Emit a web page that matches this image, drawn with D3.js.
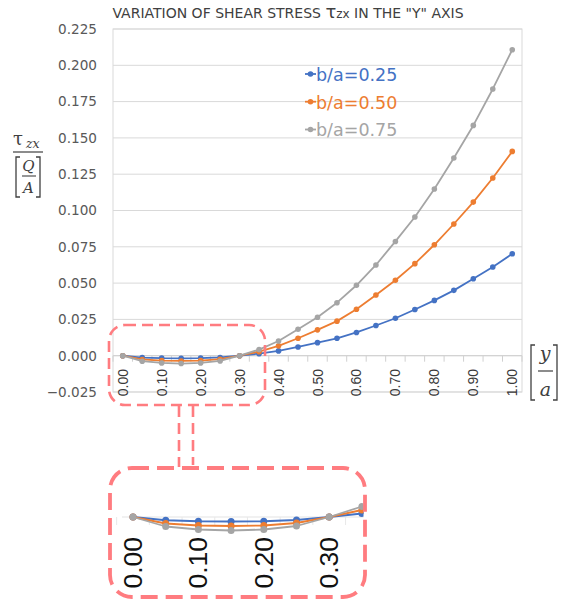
<!DOCTYPE html>
<html>
<head>
<meta charset="utf-8">
<script src="https://cdn.jsdelivr.net/npm/d3@7"></script>
<style>
  html, body { margin: 0; padding: 0; background: #fff; }
  svg { display: block; }
</style>
</head>
<body>
<svg id="chart" width="566" height="604"></svg>
<script>
// ---------------- DATA ----------------
const categories = ["0.00","0.05","0.10","0.15","0.20","0.25","0.30","0.35","0.40","0.45","0.50",
                    "0.55","0.60","0.65","0.70","0.75","0.80","0.85","0.90","0.95","1.00"];
const seriesNames = ["b/a=0.25", "b/a=0.50", "b/a=0.75"];
const values025 = [0, -0.0013, -0.0017, -0.0018, -0.0017, -0.0012, 0, 0.0014, 0.0033, 0.0060, 0.0090,
                   0.0120, 0.0160, 0.0208, 0.0258, 0.0318, 0.0381, 0.0450, 0.0530, 0.0611, 0.0702];
const values050 = [0, -0.0026, -0.0034, -0.0036, -0.0034, -0.0024, 0, 0.0028, 0.0068, 0.0120, 0.0178,
                   0.0238, 0.0320, 0.0418, 0.0520, 0.0634, 0.0764, 0.0907, 0.1058, 0.1224, 0.1407];
const values075 = [0, -0.0038, -0.0050, -0.0054, -0.0050, -0.0036, 0, 0.0042, 0.0101, 0.0182, 0.0265,
                   0.0365, 0.0485, 0.0625, 0.0787, 0.0955, 0.1148, 0.1362, 0.1586, 0.1837, 0.2107];
const yTicks = [-0.025, 0, 0.025, 0.05, 0.075, 0.1, 0.125, 0.15, 0.175, 0.2, 0.225];
const xTickLabels = ["0.00","0.10","0.20","0.30","0.40","0.50","0.60","0.70","0.80","0.90","1.00"];
const insetTickLabels = ["0.00","0.10","0.20","0.30"];
const colors = ["#4472C4", "#ED7D31", "#A5A5A5"];

const series = seriesNames.map((name, i) => ({
  name, color: colors[i],
  values: [values025, values050, values075][i]
}));

// ---------------- SCALES ----------------
const svg = d3.select("#chart");
const plot = {left: 113, right: 522, top: 29, bottom: 392};
const x = d3.scaleBand().domain(categories).range([plot.left, plot.right]);
const y = d3.scaleLinear().domain([-0.025, 0.225]).range([plot.bottom, plot.top]);
const cx = c => x(c) + x.bandwidth() / 2;

// ---------------- TITLE ----------------
const title = svg.append("text")
  .attr("x", 288).attr("y", 18)
  .attr("text-anchor", "middle")
  .attr("font-family", "DejaVu Sans, sans-serif")
  .attr("font-size", 14)
  .attr("fill", "#404040");
title.append("tspan").text("VARIATION OF SHEAR STRESS ");
title.append("tspan").attr("font-size", 18).text("τ");
title.append("tspan").attr("font-size", 12).text("zx");
title.append("tspan").text(" IN THE \"Y\" AXIS");

// ---------------- GRID ----------------
svg.append("g").selectAll("line").data(yTicks).join("line")
  .attr("x1", plot.left).attr("x2", plot.right)
  .attr("y1", d => y(d)).attr("y2", d => y(d))
  .attr("stroke", "#D9D9D9").attr("stroke-width", 1);
svg.append("rect")
  .attr("x", plot.left).attr("y", plot.top)
  .attr("width", plot.right - plot.left).attr("height", plot.bottom - plot.top)
  .attr("fill", "none").attr("stroke", "#D9D9D9");

// Y axis labels
const yAxis = d3.axisLeft(y).tickValues(yTicks).tickFormat(d3.format(".3f")).tickSize(0).tickPadding(0);
const yg = svg.append("g").attr("transform", `translate(97,0)`).call(yAxis);
yg.select(".domain").remove();
yg.selectAll("text")
  .attr("font-family", "DejaVu Sans, sans-serif")
  .attr("font-size", 13.6)
  .attr("fill", "#595959");

// X axis at zero (category axis)
const zeroY = y(0);
svg.append("line")
  .attr("x1", plot.left).attr("x2", plot.right)
  .attr("y1", zeroY).attr("y2", zeroY)
  .attr("stroke", "#D0D0D0");
const bounds = categories.map(c => x(c)).concat([plot.right]);
svg.append("g").selectAll("line").data(bounds).join("line")
  .attr("x1", d => d).attr("x2", d => d)
  .attr("y1", zeroY).attr("y2", zeroY + 6)
  .attr("stroke", "#D0D0D0");
svg.append("g").selectAll("text").data(xTickLabels).join("text")
  .attr("transform", d => `translate(${cx(d) + 5},369) rotate(-90)`)
  .attr("text-anchor", "end")
  .attr("font-family", "Liberation Sans, Arial, sans-serif")
  .attr("font-size", 14)
  .attr("fill", "#3a3a3a")
  .text(d => d);

// ---------------- SERIES ----------------
function drawSeries(g, xs, ys, r, w) {
  series.forEach(s => {
    const pts = categories.map((c, i) => [xs(c) + xs.bandwidth() / 2, ys(s.values[i])]);
    g.append("path")
      .attr("d", d3.line()(pts))
      .attr("fill", "none").attr("stroke", s.color)
      .attr("stroke-width", w).attr("stroke-linejoin", "round");
    g.append("g").selectAll("circle").data(pts).join("circle")
      .attr("cx", d => d[0]).attr("cy", d => d[1]).attr("r", r)
      .attr("fill", s.color);
  });
}
const main = svg.append("g");
drawSeries(main, x, y, 2.8, 1.8);

// ---------------- LEGEND ----------------
const legY = [74, 101.7, 129.5];
const leg = svg.append("g");
series.forEach((s, i) => {
  leg.append("line").attr("x1", 305).attr("x2", 316)
    .attr("y1", legY[i]).attr("y2", legY[i])
    .attr("stroke", s.color).attr("stroke-width", 1.8);
  leg.append("circle").attr("cx", 310.5).attr("cy", legY[i]).attr("r", 2.8).attr("fill", s.color);
  leg.append("text").attr("x", 316).attr("y", legY[i] + 6.8)
    .attr("font-family", "DejaVu Sans, sans-serif")
    .attr("font-size", 17.5)
    .attr("fill", s.color)
    .text(s.name);
});

// ---------------- AXIS TITLES (math) ----------------
const ink = "#404040";
const serif = "DejaVu Serif, Liberation Serif, serif";
const yl = svg.append("g").attr("fill", ink).attr("font-family", serif);
yl.append("text").attr("x", 13).attr("y", 145).attr("font-size", 18).text("τ");
yl.append("text").attr("x", 26).attr("y", 148).attr("font-size", 12.5).attr("font-style", "italic").text("zx");
yl.append("line").attr("x1", 13).attr("x2", 43).attr("y1", 152).attr("y2", 152).attr("stroke", ink).attr("stroke-width", 1.2);
yl.append("path").attr("d", "M20,157H16V197H20").attr("fill", "none").attr("stroke", ink).attr("stroke-width", 1.3);
yl.append("path").attr("d", "M36,157H40V197H36").attr("fill", "none").attr("stroke", ink).attr("stroke-width", 1.3);
yl.append("text").attr("x", 28.5).attr("y", 171).attr("text-anchor", "middle").attr("font-size", 15).attr("font-style", "italic").text("Q");
yl.append("line").attr("x1", 22).attr("x2", 36).attr("y1", 176).attr("y2", 176).attr("stroke", ink).attr("stroke-width", 1.1);
yl.append("text").attr("x", 28.5).attr("y", 193).attr("text-anchor", "middle").attr("font-size", 15).attr("font-style", "italic").text("A");

const xl = svg.append("g").attr("fill", ink).attr("font-family", serif);
xl.append("path").attr("d", "M535,345H531V400H535").attr("fill", "none").attr("stroke", ink).attr("stroke-width", 1.3);
xl.append("path").attr("d", "M553,345H557V400H553").attr("fill", "none").attr("stroke", ink).attr("stroke-width", 1.3);
xl.append("text").attr("x", 545).attr("y", 360).attr("text-anchor", "middle").attr("font-size", 19).attr("font-style", "italic").text("y");
xl.append("line").attr("x1", 538).attr("x2", 553).attr("y1", 371).attr("y2", 371).attr("stroke", ink).attr("stroke-width", 1.2);
xl.append("text").attr("x", 545.5).attr("y", 396).attr("text-anchor", "middle").attr("font-size", 19).attr("font-style", "italic").text("a");

// ---------------- ZOOM HIGHLIGHT ----------------
const pink = "#FF7C80";
svg.append("rect").attr("x", 109).attr("y", 325).attr("width", 156).attr("height", 80)
  .attr("rx", 16).attr("fill", "none").attr("stroke", pink)
  .attr("stroke-width", 2.6).attr("stroke-dasharray", "11,6");
svg.append("line").attr("x1", 179).attr("x2", 179).attr("y1", 406).attr("y2", 467)
  .attr("stroke", pink).attr("stroke-width", 2.6).attr("stroke-dasharray", "11,6");
svg.append("line").attr("x1", 193).attr("x2", 193).attr("y1", 406).attr("y2", 465)
  .attr("stroke", pink).attr("stroke-width", 2.6).attr("stroke-dasharray", "11,6");

// Inset (magnified view)
const xi = d3.scaleBand().domain(categories).range([116.65, 116.65 + 21 * 32.7]);
const yi = d3.scaleLinear().domain([-0.025, 0.225]).range([517 + 0.025 * 2500, 517 - 0.225 * 2500]);
svg.append("defs").append("clipPath").attr("id", "insetClip")
  .append("rect").attr("x", 112).attr("y", 470).attr("width", 251.5).attr("height", 125);
const inset = svg.append("g").attr("clip-path", "url(#insetClip)");
inset.append("line").attr("x1", 122).attr("x2", 370).attr("y1", yi(0)).attr("y2", yi(0))
  .attr("stroke", "#E3E3E3");
inset.append("g").selectAll("line").data(categories.map(c => xi(c))).join("line")
  .attr("x1", d => d).attr("x2", d => d).attr("y1", yi(0)).attr("y2", yi(0) + 8)
  .attr("stroke", "#E8E8E8");
drawSeries(inset, xi, yi, 3.5, 1.8);
inset.append("g").selectAll("text").data(insetTickLabels).join("text")
  .attr("transform", d => `translate(${xi(d) + xi.bandwidth() / 2 + 9},537) rotate(-90)`)
  .attr("text-anchor", "end")
  .attr("font-family", "Liberation Sans, Arial, sans-serif")
  .attr("font-size", 26.5)
  .attr("fill", "#111")
  .text(d => d);
svg.append("rect").attr("x", 110).attr("y", 468).attr("width", 255).attr("height", 129)
  .attr("rx", 22).attr("fill", "none").attr("stroke", pink)
  .attr("stroke-width", 3.8).attr("stroke-dasharray", "17,8");
</script>
</body>
</html>
